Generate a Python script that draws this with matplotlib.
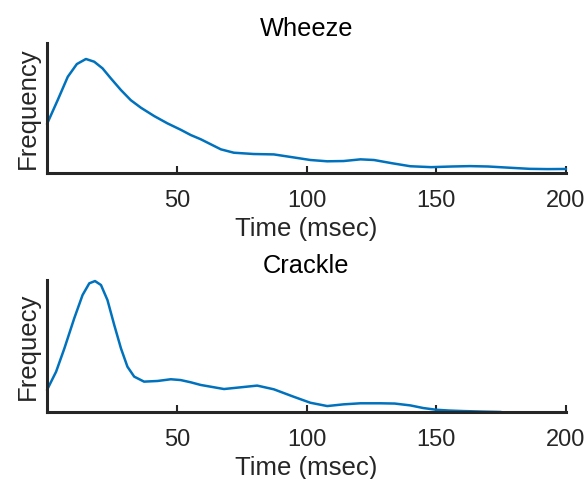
import matplotlib
matplotlib.use("Agg")
import matplotlib.pyplot as plt

wheeze_t = [0, 4.1, 8, 11.5, 15, 18.2, 21.4, 24.6, 28.5, 32.3, 36.2, 41.3, 46.4, 51.5, 55.4,
            59.2, 67, 72, 79.7, 87.4, 95, 101.5, 108, 114.3, 120.8, 126, 133, 140, 148, 156,
            163, 170, 177, 186, 193, 200]
wheeze_f = [0.377, 0.56, 0.74, 0.838, 0.877, 0.856, 0.805, 0.728, 0.638, 0.56, 0.502, 0.438,
            0.382, 0.333, 0.292, 0.26, 0.182, 0.156, 0.146, 0.143, 0.12, 0.1, 0.09, 0.092,
            0.105, 0.1, 0.075, 0.052, 0.045, 0.05, 0.053, 0.05, 0.042, 0.032, 0.03, 0.031]

crackle_t = [0, 3.5, 6.7, 10.5, 13.7, 16.3, 18.5, 20.8, 23.3, 25.9, 28.5, 31, 33.6, 37.4,
             42.6, 47.7, 51.5, 55.4, 59.2, 68.2, 74.6, 81, 87.4, 95, 101.5, 108, 114.3, 120.8,
             128.5, 134, 140, 145, 150, 155, 160.5, 168, 175]
crackle_f = [0.167, 0.305, 0.482, 0.71, 0.886, 0.975, 0.992, 0.962, 0.848, 0.66, 0.482, 0.343,
             0.268, 0.23, 0.235, 0.248, 0.242, 0.225, 0.205, 0.174, 0.187, 0.2, 0.172, 0.116,
             0.07, 0.045, 0.058, 0.066, 0.066, 0.064, 0.05, 0.03, 0.017, 0.011, 0.007, 0.003, 0.0]

xticks = [50, 100, 150, 200]
titles = ["Wheeze", "Crackle"]
ylabels = ["Frequency", "Frequecy"]
xlabel = "Time (msec)"

plt.rcParams['font.family'] = ['Liberation Sans', 'DejaVu Sans']
W, H = 586, 479
fig = plt.figure(figsize=(W / 100, H / 100), dpi=100)

axc = '#262626'
line_c = '#0072BD'
boxes = [(47, 43, 566, 173), (47, 280, 566, 412)]
series = [(wheeze_t, wheeze_f), (crackle_t, crackle_f)]

for (l, t, r, b), (tx, fy), title, yl in zip(boxes, series, titles, ylabels):
    ax = fig.add_axes([l / W, 1 - b / H, (r - l) / W, (b - t) / H])
    ax.plot(tx, fy, color=line_c, lw=1.8, solid_joinstyle='round',
            solid_capstyle='round', clip_on=False)
    ax.set_xlim(0, 200)
    ax.set_ylim(0, 1)
    ax.set_xticks(xticks)
    ax.set_yticks([])
    for s in ['top', 'right']:
        ax.spines[s].set_visible(False)
    for s in ['left', 'bottom']:
        ax.spines[s].set_color(axc)
        ax.spines[s].set_linewidth(2.2)
    ax.tick_params(axis='x', direction='in', length=5, width=1.5, color=axc,
                   labelsize=17, labelcolor=axc, pad=12)
    ax.set_xlabel(xlabel, fontsize=18.5, color=axc, labelpad=4)
    ax.set_ylabel(yl, fontsize=18.5, color=axc, labelpad=5)
    ax.set_title(title, fontsize=18.3, color='black', pad=5)
    ax.patch.set_visible(False)

fig.savefig("out.png", dpi=100)
